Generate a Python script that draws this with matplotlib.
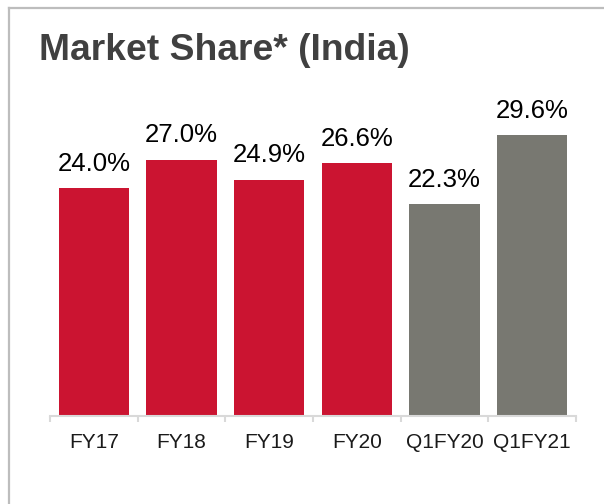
import matplotlib
matplotlib.use("Agg")
import matplotlib.pyplot as plt
from matplotlib.lines import Line2D
import numpy as np

categories = ["FY17", "FY18", "FY19", "FY20", "Q1FY20", "Q1FY21"]
values = [24.0, 27.0, 24.9, 26.6, 22.3, 29.6]
labels = ["24.0%", "27.0%", "24.9%", "26.6%", "22.3%", "29.6%"]
colors = ["#CB1431", "#CB1431", "#CB1431", "#CB1431", "#787871", "#787871"]

plt.rcParams['font.family'] = ['Liberation Sans', 'DejaVu Sans']

W, H = 604, 504
fig = plt.figure(figsize=(W / 100, H / 100), dpi=100)
fig.patch.set_facecolor("white")

# frame lines (top and left)
fig.add_artist(Line2D([9 / W, 1], [1 - 8 / H, 1 - 8 / H], transform=fig.transFigure,
                      color="#bdbdbd", lw=1.6))
fig.add_artist(Line2D([9 / W, 9 / W], [0, 1 - 8 / H], transform=fig.transFigure,
                      color="#bdbdbd", lw=1.6))

fig.text(39 / W, 1 - 60 / H, "Market Share* (India)", fontsize=26.8, fontweight="bold",
         color="#404040", ha="left", va="baseline")

ax_left, ax_right = 50 / W, 576 / W
ax_bottom = (H - 416) / H
ymax = 33.0
px_per = 281 / 29.6
ax_top = (H - 416 + ymax * px_per) / H
ax = fig.add_axes([ax_left, ax_bottom, ax_right - ax_left, ax_top - ax_bottom])

x = np.arange(len(categories))
bars = ax.bar(x, values, width=0.8, color=colors, zorder=2)
ax.set_xlim(-0.5, len(categories) - 0.5)
ax.set_ylim(0, ymax)

for xi, v, lab in zip(x, values, labels):
    ax.annotate(lab, (xi, v), xytext=(0, 12.5), textcoords="offset points",
                ha="center", va="baseline", fontsize=18.5, color="#000000")

for s in ["top", "right", "left"]:
    ax.spines[s].set_visible(False)
ax.spines["bottom"].set_color("#d9d9d9")
ax.spines["bottom"].set_linewidth(1.5)
ax.set_yticks([])
ax.set_xticks(x)
ax.set_xticklabels(categories, fontsize=15, color="#1a1a1a")
ax.tick_params(axis="x", which="major", length=0, pad=12)
ax.set_xticks(np.arange(-0.5, len(categories), 1.0), minor=True)
ax.tick_params(axis="x", which="minor", length=4.5, width=1.5, color="#d9d9d9")
ax.patch.set_visible(False)

fig.savefig("out.png", dpi=100)
